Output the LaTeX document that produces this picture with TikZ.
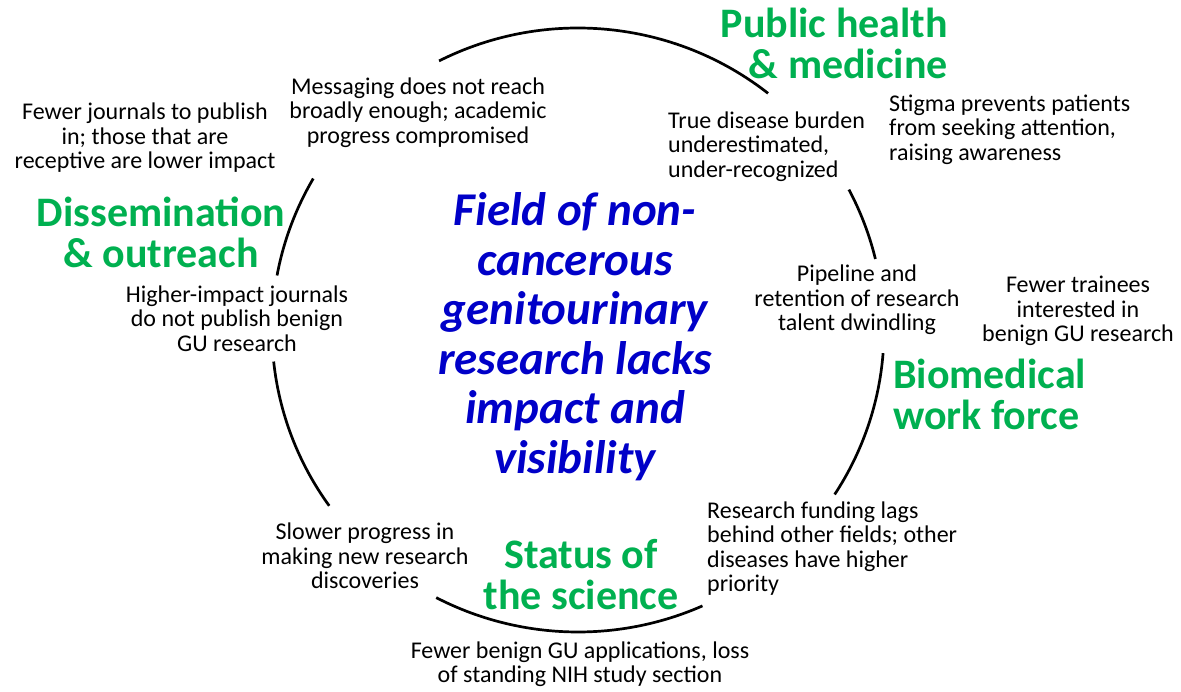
\documentclass[tikz,border=0pt]{standalone}
\usepackage{fontspec}
\setmainfont{Carlito}
\definecolor{topicgreen}{RGB}{0,176,80}
\definecolor{titleblue}{RGB}{0,0,200}
\begin{document}
\begin{tikzpicture}[x=1pt,y=-1pt,
  note/.style={inner sep=0pt,font=\fontsize{24}{24.4}\selectfont,text=black},
  topic/.style={inner sep=0pt,font=\fontsize{42}{41}\selectfont\bfseries,text=topicgreen},
  headline/.style={inner sep=0pt,align=center,font=\fontsize{47}{49.5}\selectfont\bfseries\itshape,text=titleblue},
  ring/.style={line width=2.7pt,black}]
\useasboundingbox (0,0) rectangle (1181,692);

% centre of the ring
\coordinate (c) at (578,330);

% broken ring: one arc between each pair of labels
\draw[ring] (c) ++(117:306pt and 302pt) arc[start angle=117,end angle=51.6,x radius=306pt,y radius=302pt];
\draw[ring] (c) ++(27.7:306pt and 302pt) arc[start angle=27.7,end angle=13.6,x radius=306pt,y radius=302pt];
\draw[ring] (c) ++(-4.4:306pt and 302pt) arc[start angle=-4.4,end angle=-33,x radius=306pt,y radius=302pt];
\draw[ring] (c) ++(-66:306pt and 302pt) arc[start angle=-66,end angle=-117.6,x radius=306pt,y radius=302pt];
\draw[ring] (c) ++(215.6:306pt and 302pt) arc[start angle=215.6,end angle=186,x radius=306pt,y radius=302pt];
\draw[ring] (c) ++(169.6:306pt and 302pt) arc[start angle=169.6,end angle=149.9,x radius=306pt,y radius=302pt];

% central statement
\node[headline] (title) at (575,336.5) {Field of non-\\cancerous\\genitourinary\\research lacks\\impact and\\visibility};

% topic headings
\node[topic,align=right,anchor=east] (pubh) at (948,43) {Public health\\\& medicine};
\node[topic,align=center] (dissem) at (161,232) {Dissemination\\\& outreach};
\node[topic,align=left,anchor=west] (biomed) at (893,394) {Biomedical\\work force};
\node[topic,align=center] (status) at (581,575) {Status of\\the science};

% consequences
\node[note,align=center] (msg) at (418,112.5) {Messaging does not reach\\broadly enough; academic\\progress compromised};
\node[note,align=center] (fewerj) at (145,138) {Fewer journals to publish\\in; those that are\\receptive are lower impact};
\node[note,align=center] (higher) at (237,318.5) {Higher-impact journals\\do not publish benign\\GU research};
\node[note,align=left,anchor=west] (truedis) at (668,146.5) {True disease burden\\underestimated,\\under-recognized};
\node[note,align=left,anchor=west] (stigma) at (889,129.5) {Stigma prevents patients\\from seeking attention,\\raising awareness};
\node[note,align=center] (pipeline) at (857,300) {Pipeline and\\retention of research\\talent dwindling};
\node[note,align=center] (fewertr) at (1078,311) {Fewer trainees\\interested in\\benign GU research};
\node[note,align=left,anchor=west] (funding) at (707,548.5) {Research funding lags\\behind other fields; other\\diseases have higher\\priority};
\node[note,align=center] (slower) at (365,556) {Slower progress in\\making new research\\discoveries};
\node[note,align=center] (fewerb) at (580,664) {Fewer benign GU applications, loss\\of standing NIH study section};
\end{tikzpicture}
\end{document}
